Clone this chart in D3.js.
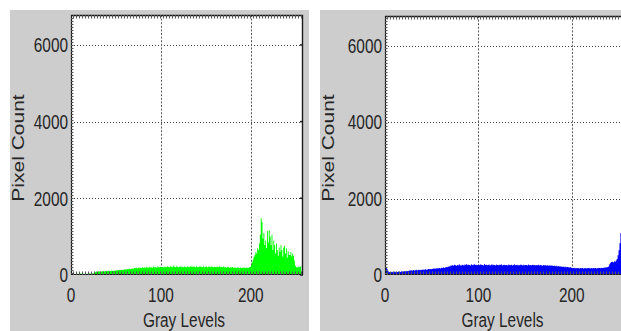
<!DOCTYPE html>
<html>
<head>
<meta charset="utf-8">
<script src="https://cdn.jsdelivr.net/npm/d3@7"></script>
<style>
  html, body { margin: 0; padding: 0; background: #ffffff; overflow: hidden; }
  svg { display: block; }
  text { font-family: "Liberation Sans", Arial, sans-serif; fill: #262626; }
</style>
</head>
<body>
<svg id="chart" width="621" height="331"></svg>
<script>
// ---------- data ----------
const xTicks = [0, 100, 200];
const yTicks = [0, 2000, 4000, 6000];
const yGridTicks = [2000, 4000, 6000];
const xGridTicks = [100, 200];
const xLabel = "Gray Levels";
const yLabel = "Pixel Count";

// green channel histogram, gray levels 0..255
const greenCounts = [
  // 0-26
  30, 25, 35, 20, 30, 28, 22, 35, 30, 25, 40, 30, 28, 35, 30, 25, 32, 30, 28, 35, 40, 30, 35, 38, 42, 45, 60,
  // 27-49
  85, 90, 80, 95, 88, 92, 85, 100, 95, 90, 98, 105, 95, 100, 110, 102, 98, 108, 115, 105, 110, 120, 112,
  // 50-69
  125, 118, 130, 122, 135, 128, 140, 132, 138, 145, 150, 140, 155, 148, 160, 152, 165, 158, 170, 162,
  // 70-99
  180, 175, 190, 170, 185, 200, 178, 192, 185, 205, 188, 195, 180, 210, 190, 200, 185, 215, 195, 205,
  190, 220, 200, 195, 210, 190, 225, 200, 205, 215,
  // 100-129
  200, 210, 195, 220, 205, 215, 200, 225, 210, 205, 230, 215, 200, 220, 250, 210, 205, 225, 215, 200,
  220, 210, 230, 205, 215, 200, 225, 210, 205, 220,
  // 130-159
  215, 205, 225, 210, 240, 200, 220, 215, 205, 225, 210, 200, 220, 215, 230, 205, 210, 225, 200, 215,
  220, 205, 210, 230, 215, 200, 225, 210, 205, 215,
  // 160-199
  210, 205, 220, 200, 215, 225, 205, 210, 200, 220, 195, 210, 205, 190, 215, 200, 185, 205, 195, 210,
  190, 200, 185, 195, 180, 200, 190, 185, 195, 180, 190, 185, 200, 190, 180, 195, 185, 190, 200, 210,
  // 200-255
  260, 330, 400, 470, 520, 600, 560, 700, 650, 820, 1050, 1480, 1380, 950, 1100, 780, 900, 700, 1150, 850,
  1170, 1000, 780, 1050, 650, 900, 780, 560, 820, 650, 500, 720, 600, 780, 650, 480, 720, 760, 560, 700,
  450, 620, 530, 520, 600, 480, 560, 500, 380, 250, 210, 190, 220, 200, 210, 230
];

// blue channel histogram, gray levels 0..255
const blueCounts = [
  // 0-3
  220, 200, 150, 100,
  // 4-24
  70, 80, 75, 85, 70, 80, 90, 75, 85, 80, 90, 85, 80, 95, 85, 90, 95, 100, 90, 105, 100,
  // 25-49
  110, 120, 115, 125, 110, 130, 120, 125, 135, 120, 130, 140, 125, 135, 130, 145, 135, 140, 150, 140,
  145, 155, 150, 160, 150,
  // 50-69
  160, 170, 165, 175, 160, 180, 170, 175, 185, 170, 190, 180, 200, 185, 195, 210, 200, 215, 220, 230,
  // 70-99
  250, 240, 260, 245, 270, 255, 240, 265, 250, 280, 255, 245, 270, 260, 250, 275, 260, 285, 255, 270,
  260, 250, 280, 265, 255, 290, 260, 270, 255, 265,
  // 100-129
  270, 255, 280, 260, 265, 250, 285, 260, 270, 255, 260, 275, 250, 265, 280, 255, 270, 260, 250, 275,
  265, 255, 270, 260, 280, 250, 265, 270, 255, 260,
  // 130-159
  265, 250, 275, 260, 255, 270, 250, 265, 280, 255, 260, 270, 250, 265, 255, 275, 260, 250, 270, 255,
  265, 260, 250, 275, 255, 265, 250, 260, 270, 255,
  // 160-199
  260, 250, 265, 255, 270, 250, 260, 255, 245, 265, 250, 260, 245, 255, 250, 240, 255, 245, 250, 240,
  235, 245, 230, 240, 225, 235, 220, 230, 215, 225, 210, 220, 205, 215, 200, 210, 205, 195, 200, 190,
  // 200-239
  185, 180, 175, 190, 170, 180, 185, 175, 170, 180, 175, 185, 170, 175, 180, 170, 175, 185, 180, 170,
  175, 180, 170, 185, 175, 180, 170, 175, 185, 180, 175, 190, 185, 180, 195, 190, 200, 195, 210, 220,
  // 240-255
  280, 320, 340, 350, 330, 360, 350, 380, 420, 520, 650, 830, 1100, 1400, 1600, 1700
];

// ---------- layout ----------
const svg = d3.select("#chart");
const TEXT_SX = 0.77;   // horizontal squeeze of the glyphs in the reference
const FONT = 20;

const panels = [
  { counts: greenCounts, color: "#00ff00",
    bg: [10, 10, 299, 330], plot: { x0: 71, x1: 303, y0: 15, y1: 275 },
    xMax: 258, yMax: 6780, rightEdge: true, yLabelX: 23.5 },
  { counts: blueCounts, color: "#0000ff",
    bg: [320, 10, 320, 330], plot: { x0: 385, x1: 626, y0: 16, y1: 275 },
    xMax: 258, yMax: 6780, rightEdge: false, yLabelX: 333.5 }
];

panels.forEach((p, pi) => {
  const g = svg.append("g");
  const P = p.plot;

  // grey figure background
  g.append("rect").attr("x", p.bg[0]).attr("y", p.bg[1]).attr("width", p.bg[2]).attr("height", p.bg[3])
    .attr("fill", "#cdcdcd");

  // white axes area
  g.append("rect").attr("x", P.x0).attr("y", P.y0).attr("width", P.x1 - P.x0).attr("height", P.y1 - P.y0)
    .attr("fill", "#ffffff");

  const x = d3.scaleLinear().domain([0, p.xMax]).range([P.x0, P.x1]);
  const y = d3.scaleLinear().domain([0, p.yMax]).range([P.y1, P.y0]);

  const clipId = "clip" + pi;
  g.append("clipPath").attr("id", clipId).append("rect")
    .attr("x", P.x0).attr("y", P.y0).attr("width", P.x1 - P.x0).attr("height", P.y1 - P.y0);

  // grid
  g.append("g").selectAll("line").data(yGridTicks).join("line")
    .attr("x1", P.x0).attr("x2", P.x1).attr("y1", d => Math.round(y(d)) + 0.5).attr("y2", d => Math.round(y(d)) + 0.5)
    .attr("stroke", "#3c3c3c").attr("stroke-width", 1).attr("stroke-dasharray", "1,2");
  g.append("g").selectAll("line").data(xGridTicks).join("line")
    .attr("y1", P.y0).attr("y2", P.y1).attr("x1", d => Math.round(x(d)) + 0.5).attr("x2", d => Math.round(x(d)) + 0.5)
    .attr("stroke", "#5a5a5a").attr("stroke-width", 1).attr("stroke-dasharray", "2,1.6");

  // histogram (one bin per gray level)
  const area = d3.area()
    .x((d, i) => x(i))
    .y0(y(0))
    .y1(d => y(d))
    .curve(d3.curveStepAfter);
  const pts = p.counts.concat([p.counts[p.counts.length - 1]]);
  g.append("path").datum(pts).attr("clip-path", `url(#${clipId})`)
    .attr("d", area).attr("fill", p.color).attr("stroke", "none");

  // axes box with minor ticks
  const edge = g.append("g").attr("stroke", "#1a1a1a").attr("fill", "none");
  edge.append("line").attr("x1", P.x0).attr("x2", P.x1).attr("y1", P.y1 - 0.5).attr("y2", P.y1 - 0.5).attr("stroke-width", 1.2);
  edge.append("line").attr("x1", P.x0).attr("x2", P.x1).attr("y1", P.y0 + 0.5).attr("y2", P.y0 + 0.5).attr("stroke-width", 1.4);
  edge.append("line").attr("x1", P.x0 + 0.5).attr("x2", P.x0 + 0.5).attr("y1", P.y0).attr("y2", P.y1).attr("stroke-width", 1.2);
  if (p.rightEdge) {
    edge.append("line").attr("x1", P.x1 - 0.5).attr("x2", P.x1 - 0.5).attr("y1", P.y0).attr("y2", P.y1).attr("stroke-width", 1.4);
    edge.selectAll("line.rt").data(yTicks).join("line").attr("class", "rt")
      .attr("x1", P.x1 - 3).attr("x2", P.x1).attr("y1", d => y(d)).attr("y2", d => y(d)).attr("stroke-width", 1.5);
  }
  const xm = d3.range(P.x0 + 2, P.x1, 3);
  const ym = d3.range(P.y1 - 2, P.y0, -3);
  edge.selectAll("line.bt").data(xm).join("line").attr("class", "bt")
    .attr("x1", d => d + 0.5).attr("x2", d => d + 0.5).attr("y1", P.y1 - 3.5).attr("y2", P.y1)
    .attr("stroke", "#555").attr("stroke-width", 1);
  edge.selectAll("line.tt").data(xm).join("line").attr("class", "tt")
    .attr("x1", d => d + 0.5).attr("x2", d => d + 0.5).attr("y1", P.y0).attr("y2", P.y0 + 3.5)
    .attr("stroke", "#555").attr("stroke-width", 1);
  edge.selectAll("line.lt").data(ym).join("line").attr("class", "lt")
    .attr("x1", P.x0).attr("x2", P.x0 + 2.5).attr("y1", d => d + 0.5).attr("y2", d => d + 0.5)
    .attr("stroke", "#555").attr("stroke-width", 1);

  // y tick labels
  g.append("g").selectAll("text").data(yTicks).join("text")
    .attr("transform", d => `translate(${P.x0 - 3},${y(d)}) scale(${TEXT_SX},1)`)
    .attr("text-anchor", "end").attr("dy", "0.36em").attr("font-size", FONT)
    .text(d => d);

  // x tick labels
  g.append("g").selectAll("text").data(xTicks).join("text")
    .attr("transform", d => `translate(${x(d)},302) scale(${TEXT_SX},1)`)
    .attr("text-anchor", "middle").attr("font-size", FONT)
    .text(d => d);

  // axis labels
  g.append("text")
    .attr("transform", `translate(${(P.x0 + Math.min(P.x1, 621 + 5)) / 2 - 3},327) scale(${TEXT_SX},1)`)
    .attr("text-anchor", "middle").attr("font-size", FONT).text(xLabel);
  g.append("text")
    .attr("transform", `translate(${p.yLabelX},148) scale(${TEXT_SX},1) rotate(-90)`)
    .attr("text-anchor", "middle").attr("font-size", FONT + 1).text(yLabel);
});
</script>
</body>
</html>
